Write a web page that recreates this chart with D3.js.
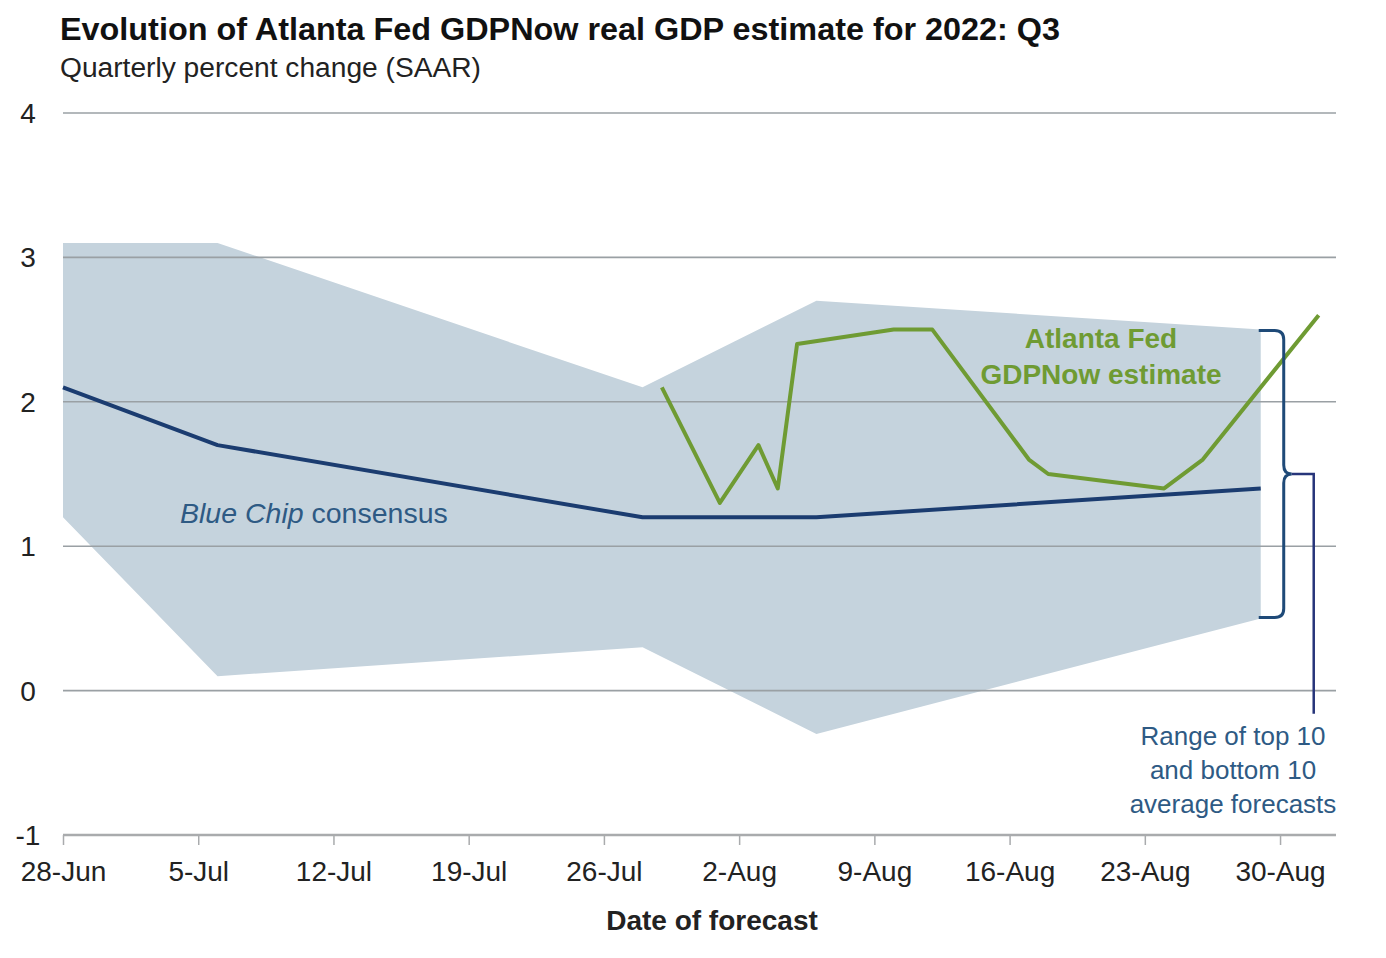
<!DOCTYPE html>
<html>
<head>
<meta charset="utf-8">
<script src="https://cdn.jsdelivr.net/npm/d3@7"></script>
<style>
  body { margin: 0; background: #fff; }
  text { font-family: "Liberation Sans", Arial, sans-serif; }
</style>
</head>
<body>
<svg id="chart" width="1386" height="958"></svg>
<script>
const parse = d3.utcParse('%Y-%m-%d');

// Blue Chip consensus and range of top 10 / bottom 10 averages
const bcDates = ['2022-06-28', '2022-07-06', '2022-07-28', '2022-08-06', '2022-08-29'];
const bcConsensus = [2.1, 1.7, 1.2, 1.2, 1.4];
const bcTop10 = [3.1, 3.1, 2.1, 2.7, 2.5];
const bcBottom10 = [1.2, 0.1, 0.3, -0.3, 0.5];

// Atlanta Fed GDPNow estimates
const gdpDates = ['2022-07-29', '2022-08-01', '2022-08-03', '2022-08-04', '2022-08-05', '2022-08-10',
  '2022-08-12', '2022-08-17', '2022-08-18', '2022-08-24', '2022-08-26', '2022-09-01'];
const gdpNow = [2.1, 1.3, 1.7, 1.4, 2.4, 2.5, 2.5, 1.6, 1.5, 1.4, 1.6, 2.6];

const xTicks = ['2022-06-28', '2022-07-05', '2022-07-12', '2022-07-19', '2022-07-26',
  '2022-08-02', '2022-08-09', '2022-08-16', '2022-08-23', '2022-08-30'];
const yTicks = [-1, 0, 1, 2, 3, 4];

const svg = d3.select('#chart');

const x = d3.scaleUtc()
  .domain([parse('2022-06-28'), parse('2022-09-02')])
  .range([63, 1338]);

const y = d3.scaleLinear()
  .domain([-1, 4])
  .range([835, 113]);

const band = bcDates.map((d, i) => ({ date: parse(d), hi: bcTop10[i], lo: bcBottom10[i] }));
const consensus = bcDates.map((d, i) => ({ date: parse(d), v: bcConsensus[i] }));
const gdp = gdpDates.map((d, i) => ({ date: parse(d), v: gdpNow[i] }));

// shaded range
svg.append('path')
  .datum(band)
  .attr('fill', '#c5d3dd')
  .attr('d', d3.area().x(d => x(d.date)).y0(d => y(d.lo)).y1(d => y(d.hi)));

// gridlines
svg.append('g')
  .selectAll('line')
  .data(yTicks.filter(v => v > -1))
  .join('line')
  .attr('x1', 63).attr('x2', 1336)
  .attr('y1', d => y(d)).attr('y2', d => y(d))
  .attr('stroke', '#9aa0a4')
  .attr('stroke-width', 1.6);

// x axis at -1
const xAxis = svg.append('g')
  .attr('transform', `translate(0, ${y(-1)})`)
  .call(d3.axisBottom(x)
    .tickValues(xTicks.map(parse))
    .tickFormat(d3.utcFormat('%-d-%b'))
    .tickSize(10)
    .tickSizeOuter(0));
xAxis.select('.domain').attr('stroke', '#a9abad').attr('stroke-width', 2.5)
  .attr('d', `M63,0H1336`);
xAxis.selectAll('.tick line').attr('stroke', '#a9abad').attr('stroke-width', 1.5);
xAxis.selectAll('.tick text')
  .attr('y', 26)
  .attr('dy', '0.71em')
  .attr('fill', '#222')
  .style('font-size', '28px')
  .style('font-family', '"Liberation Sans", Arial, sans-serif');

// y tick labels
svg.append('g')
  .selectAll('text')
  .data(yTicks)
  .join('text')
  .attr('x', 28)
  .attr('y', d => y(d))
  .attr('dy', '0.36em')
  .attr('text-anchor', 'middle')
  .attr('fill', '#222')
  .style('font-size', '28px')
  .text(d => d);

// lines
svg.append('path')
  .datum(consensus)
  .attr('fill', 'none')
  .attr('stroke', '#1b3c70')
  .attr('stroke-width', 4)
  .attr('stroke-linejoin', 'round')
  .attr('d', d3.line().x(d => x(d.date)).y(d => y(d.v)));

svg.append('path')
  .datum(gdp)
  .attr('fill', 'none')
  .attr('stroke', '#6f9b33')
  .attr('stroke-width', 4)
  .attr('stroke-linejoin', 'round')
  .attr('d', d3.line().x(d => x(d.date)).y(d => y(d.v)));

// brace around last range
const last = band[band.length - 1];
const xl = x(last.date) - 2;
const xb = xl + 25;
const xc = xb + 8;
const yTop = y(last.hi) + 1;
const yBot = y(last.lo) - 1;
const yMid = (yTop + yBot) / 2;
svg.append('path')
  .attr('fill', 'none')
  .attr('stroke', '#1f4a78')
  .attr('stroke-width', 3)
  .attr('d', `M${xl},${yTop}L${xb - 9},${yTop}Q${xb},${yTop} ${xb},${yTop + 9}L${xb},${yMid - 9}` +
    `Q${xb},${yMid} ${xc},${yMid}Q${xb},${yMid} ${xb},${yMid + 9}L${xb},${yBot - 9}` +
    `Q${xb},${yBot} ${xb - 9},${yBot}L${xl},${yBot}`);
svg.append('path')
  .attr('fill', 'none')
  .attr('stroke', '#27357a')
  .attr('stroke-width', 2.5)
  .attr('d', `M${xc},${yMid}L${xc + 22},${yMid}L${xc + 22},${y(-0.16)}`);

// annotations
svg.append('text')
  .attr('x', 180).attr('y', 523)
  .attr('fill', '#2e5a84')
  .style('font-size', '28.5px')
  .call(t => {
    t.append('tspan').style('font-style', 'italic').text('Blue Chip');
    t.append('tspan').text(' consensus');
  });

svg.append('g')
  .selectAll('text')
  .data(['Atlanta Fed', 'GDPNow estimate'])
  .join('text')
  .attr('x', 1101)
  .attr('y', (d, i) => 348 + i * 36)
  .attr('text-anchor', 'middle')
  .attr('fill', '#6f9b33')
  .style('font-size', '28px')
  .style('font-weight', 'bold')
  .text(d => d);

svg.append('g')
  .selectAll('text')
  .data(['Range of top 10', 'and bottom 10', 'average forecasts'])
  .join('text')
  .attr('x', 1233)
  .attr('y', (d, i) => 745 + i * 34)
  .attr('text-anchor', 'middle')
  .attr('fill', '#2e5a84')
  .style('font-size', '26px')
  .text(d => d);

// titles
svg.append('text')
  .attr('x', 60).attr('y', 40)
  .attr('fill', '#111')
  .attr('textLength', 1000)
  .attr('lengthAdjust', 'spacingAndGlyphs')
  .style('font-size', '32px')
  .style('font-weight', 'bold')
  .text('Evolution of Atlanta Fed GDPNow real GDP estimate for 2022: Q3');

svg.append('text')
  .attr('x', 60).attr('y', 77)
  .attr('fill', '#222')
  .attr('textLength', 421)
  .attr('lengthAdjust', 'spacingAndGlyphs')
  .style('font-size', '27px')
  .text('Quarterly percent change (SAAR)');

svg.append('text')
  .attr('x', 712).attr('y', 930)
  .attr('text-anchor', 'middle')
  .attr('fill', '#222')
  .style('font-size', '28px')
  .style('font-weight', 'bold')
  .text('Date of forecast');
</script>
</body>
</html>
